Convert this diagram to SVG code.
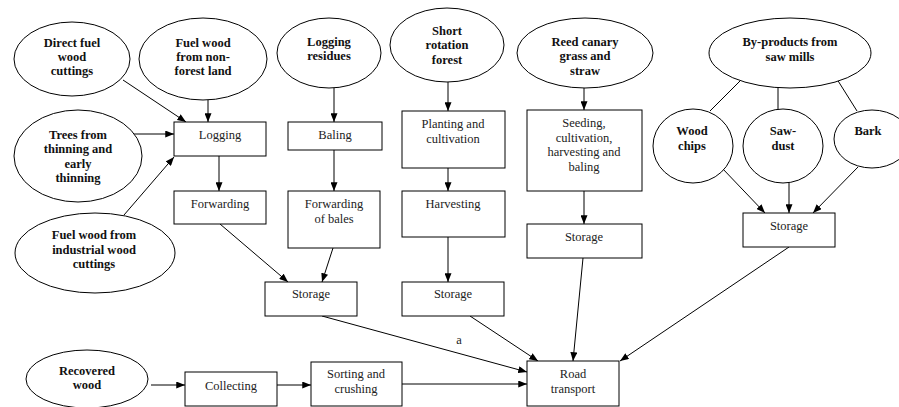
<svg xmlns="http://www.w3.org/2000/svg" width="899" height="407" viewBox="0 0 899 407" font-family="Liberation Serif, Times New Roman, Tinos, Nimbus Roman, Noto Serif, DejaVu Serif, serif">
  <style>
    .src ellipse { fill: #fff; stroke: #000; stroke-width: 1; }
    .src text { font-weight: bold; font-size: 12.5px; fill: #111; text-anchor: middle; }
    .box rect { fill: #fff; stroke: #000; stroke-width: 1; }
    .box text { font-size: 12.5px; fill: #222; text-anchor: middle; }
    .edges line { stroke: #000; stroke-width: 1; fill: none; }
    .edges line.arr { marker-end: url(#head); }
    .lbl { font-size: 12.5px; fill: #222; text-anchor: middle; }
  </style>
  <defs>
    <marker id="head" viewBox="0 0 10 8" refX="10" refY="4" markerWidth="9" markerHeight="7" markerUnits="userSpaceOnUse" orient="auto">
      <path d="M0,0 L10,4 L0,8 Z" fill="#000"/>
    </marker>
  </defs>

  <rect x="0" y="0" width="899" height="407" fill="#fff"/>

  <!-- connectors -->
  <g id="connectors" class="edges">
    <line class="arr" x1="123" y1="80" x2="186" y2="122"/>
    <line class="arr" x1="208" y1="100" x2="208" y2="122"/>
    <line class="arr" x1="129" y1="134" x2="174" y2="134"/>
    <line class="arr" x1="124" y1="215" x2="174" y2="157"/>
    <line class="arr" x1="219" y1="156" x2="219" y2="191"/>
    <line class="arr" x1="220" y1="224" x2="288" y2="282"/>
    <line class="arr" x1="334" y1="88" x2="334" y2="122"/>
    <line class="arr" x1="334" y1="150" x2="334" y2="191"/>
    <line class="arr" x1="333" y1="248" x2="322" y2="282"/>
    <line class="arr" x1="448" y1="82" x2="448" y2="111"/>
    <line class="arr" x1="448" y1="168" x2="448" y2="191"/>
    <line class="arr" x1="448" y1="237" x2="448" y2="282"/>
    <line class="arr" x1="584" y1="88" x2="584" y2="110"/>
    <line class="arr" x1="584" y1="191" x2="584" y2="224"/>
    <line x1="740" y1="81" x2="710" y2="111"/>
    <line x1="778" y1="88" x2="778" y2="110"/>
    <line x1="835" y1="76" x2="857" y2="111"/>
    <line class="arr" x1="722" y1="168" x2="765" y2="213"/>
    <line class="arr" x1="789" y1="183" x2="789" y2="213"/>
    <line class="arr" x1="858" y1="167" x2="813" y2="213"/>
    <line class="arr" x1="789" y1="247" x2="620" y2="361"/>
    <line class="arr" x1="583" y1="258" x2="573" y2="361"/>
    <line class="arr" x1="470" y1="316" x2="538" y2="361"/>
    <line class="arr" x1="322" y1="316" x2="527" y2="372"/>
    <line class="arr" x1="151" y1="385" x2="185" y2="385"/>
    <line class="arr" x1="277" y1="385" x2="311" y2="385"/>
    <line class="arr" x1="402" y1="384" x2="527" y2="384"/>
  </g>
  <text class="lbl" x="459" y="344">a</text>

  <!-- sources -->
  <g id="direct-fuel-wood" class="src">
    <ellipse cx="72" cy="59" rx="58" ry="37"/>
    <text x="72" y="47">Direct fuel</text>
    <text x="72" y="61">wood</text>
    <text x="72" y="75">cuttings</text>
  </g>
  <g id="fuel-wood-non-forest" class="src">
    <ellipse cx="203" cy="59" rx="64" ry="41"/>
    <text x="203" y="47">Fuel wood</text>
    <text x="203" y="61">from non-</text>
    <text x="203" y="75">forest land</text>
  </g>
  <g id="trees-thinning" class="src">
    <ellipse cx="78" cy="156" rx="64" ry="46"/>
    <text x="78" y="139">Trees from</text>
    <text x="78" y="153">thinning and</text>
    <text x="78" y="168">early</text>
    <text x="78" y="182">thinning</text>
  </g>
  <g id="fuel-wood-industrial" class="src">
    <ellipse cx="95" cy="253" rx="80" ry="40"/>
    <text x="94" y="239">Fuel wood from</text>
    <text x="94" y="254">industrial wood</text>
    <text x="94" y="268">cuttings</text>
  </g>
  <g id="logging-residues" class="src">
    <ellipse cx="329" cy="53" rx="52" ry="35"/>
    <text x="329" y="46">Logging</text>
    <text x="329" y="60">residues</text>
  </g>
  <g id="short-rotation-forest" class="src">
    <ellipse cx="447" cy="45" rx="57" ry="37"/>
    <text x="447" y="35">Short</text>
    <text x="447" y="49">rotation</text>
    <text x="447" y="64">forest</text>
  </g>
  <g id="reed-canary-grass" class="src">
    <ellipse cx="585" cy="53" rx="68" ry="35"/>
    <text x="585" y="46">Reed canary</text>
    <text x="585" y="60">grass and</text>
    <text x="585" y="75">straw</text>
  </g>
  <g id="saw-mill-by-products" class="src">
    <ellipse cx="790" cy="53" rx="81" ry="35"/>
    <text x="790" y="46">By-products from</text>
    <text x="790" y="61">saw mills</text>
  </g>
  <g id="wood-chips" class="src">
    <ellipse cx="693" cy="146" rx="40" ry="37"/>
    <text x="692" y="135">Wood</text>
    <text x="692" y="150">chips</text>
  </g>
  <g id="saw-dust" class="src">
    <ellipse cx="783" cy="146" rx="40" ry="37"/>
    <text x="783" y="135">Saw-</text>
    <text x="783" y="150">dust</text>
  </g>
  <g id="bark" class="src">
    <ellipse cx="872" cy="139" rx="38" ry="29"/>
    <text x="868" y="135">Bark</text>
  </g>
  <g id="recovered-wood" class="src">
    <ellipse cx="87" cy="379" rx="61" ry="29"/>
    <text x="87" y="375">Recovered</text>
    <text x="87" y="389">wood</text>
  </g>

  <!-- process steps -->
  <g id="logging" class="box">
    <rect x="174" y="122" width="92" height="34"/>
    <text x="220" y="139">Logging</text>
  </g>
  <g id="forwarding" class="box">
    <rect x="174" y="191" width="92" height="33"/>
    <text x="220" y="208">Forwarding</text>
  </g>
  <g id="baling" class="box">
    <rect x="288" y="122" width="94" height="28"/>
    <text x="335" y="139">Baling</text>
  </g>
  <g id="forwarding-bales" class="box">
    <rect x="288" y="191" width="92" height="57"/>
    <text x="334" y="208">Forwarding</text>
    <text x="334" y="223">of bales</text>
  </g>
  <g id="planting" class="box">
    <rect x="402" y="111" width="103" height="57"/>
    <text x="453" y="128">Planting and</text>
    <text x="453" y="143">cultivation</text>
  </g>
  <g id="harvesting" class="box">
    <rect x="402" y="191" width="103" height="46"/>
    <text x="453" y="208">Harvesting</text>
  </g>
  <g id="seeding" class="box">
    <rect x="527" y="110" width="115" height="81"/>
    <text x="584" y="127">Seeding,</text>
    <text x="584" y="142">cultivation,</text>
    <text x="584" y="156">harvesting and</text>
    <text x="584" y="171">baling</text>
  </g>
  <g id="storage-reed" class="box">
    <rect x="527" y="224" width="115" height="34"/>
    <text x="584" y="241">Storage</text>
  </g>
  <g id="storage-sawmill" class="box">
    <rect x="743" y="213" width="92" height="34"/>
    <text x="789" y="230">Storage</text>
  </g>
  <g id="storage-forest" class="box">
    <rect x="265" y="282" width="92" height="34"/>
    <text x="311" y="298">Storage</text>
  </g>
  <g id="storage-short-rotation" class="box">
    <rect x="402" y="282" width="102" height="34"/>
    <text x="453" y="298">Storage</text>
  </g>
  <g id="collecting" class="box">
    <rect x="185" y="372" width="92" height="34"/>
    <text x="231" y="390">Collecting</text>
  </g>
  <g id="sorting" class="box">
    <rect x="311" y="362" width="91" height="44"/>
    <text x="356" y="378">Sorting and</text>
    <text x="356" y="393">crushing</text>
  </g>
  <g id="road-transport" class="box">
    <rect x="527" y="361" width="92" height="45"/>
    <text x="573" y="378">Road</text>
    <text x="573" y="393">transport</text>
  </g>
</svg>
